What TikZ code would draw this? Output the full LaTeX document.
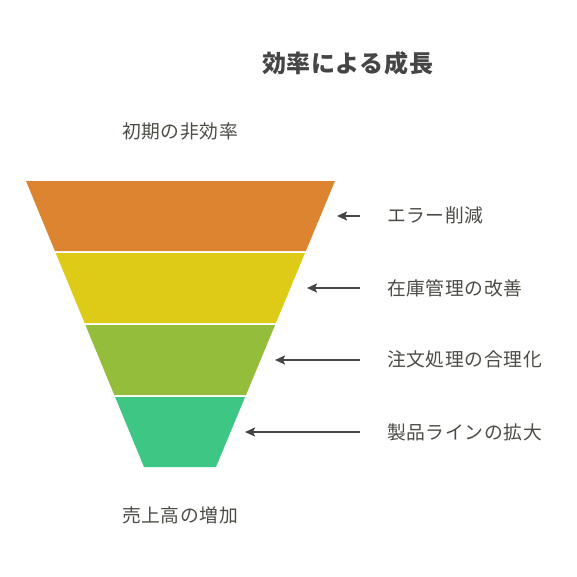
\documentclass[tikz,border=0pt]{standalone}
\usepackage{fontspec}
\setmainfont{Noto Sans CJK JP}
\usetikzlibrary{arrows.meta,calc}
\definecolor{cOrange}{HTML}{DD8431}
\definecolor{cYellow}{HTML}{DECB18}
\definecolor{cGreen}{HTML}{94BD3C}
\definecolor{cTeal}{HTML}{3DC684}
\definecolor{cText}{HTML}{4C4C46}
\definecolor{cTitle}{HTML}{454545}
\definecolor{cArrow}{HTML}{454545}
\tikzset{
  lbl/.style={anchor=west, inner sep=0pt, text=cText, font=\fontsize{18.8}{18.8}\selectfont\addfontfeature{LetterSpace=3.2}},
  ttl/.style={anchor=west, inner sep=0pt, text=cTitle, font=\fontsize{24}{24}\selectfont\bfseries\addfontfeature{LetterSpace=2.5}},
  pointer/.style={draw=cArrow, line width=2pt, -{Stealth[length=10pt,width=9pt,inset=2pt]}},
}
\begin{document}
\begin{tikzpicture}[x=1pt,y=-1pt]
\useasboundingbox (0,0) rectangle (577,576);
% funnel layers
\fill[cOrange] (26,181) -- (335,181) -- (305.9,251) -- (54.9,251) -- cycle;
\fill[cYellow] (55.7,253) -- (305.0,253) -- (275.9,323) -- (84.6,323) -- cycle;
\fill[cGreen] (85.4,325) -- (275.1,325) -- (246.0,395) -- (114.3,395) -- cycle;
\fill[cTeal] (115.1,397) -- (245.1,397) -- (216,467) -- (144,467) -- cycle;
% texts
\node[ttl] (title) at (262,63) {効率による成長};
\node[lbl] (top) at (122,131) {初期の非効率};
\node[lbl] (bottom) at (122,515) {売上高の増加};
\node[lbl] (l1) at (387,215) {エラー削減};
\node[lbl] (l2) at (387,288) {在庫管理の改善};
\node[lbl] (l3) at (387,359.5) {注文処理の合理化};
\node[lbl] (l4) at (387,432) {製品ラインの拡大};
% arrows
\coordinate (s1) at (360,216); \coordinate (t1) at (337,216);
\coordinate (s2) at (360,288); \coordinate (t2) at (307,288);
\coordinate (s3) at (360,360); \coordinate (t3) at (275,360);
\coordinate (s4) at (360,432); \coordinate (t4) at (245,432);
\draw[pointer] (s1) -- (t1);
\draw[pointer] (s2) -- (t2);
\draw[pointer] (s3) -- (t3);
\draw[pointer] (s4) -- (t4);
\end{tikzpicture}
\end{document}
